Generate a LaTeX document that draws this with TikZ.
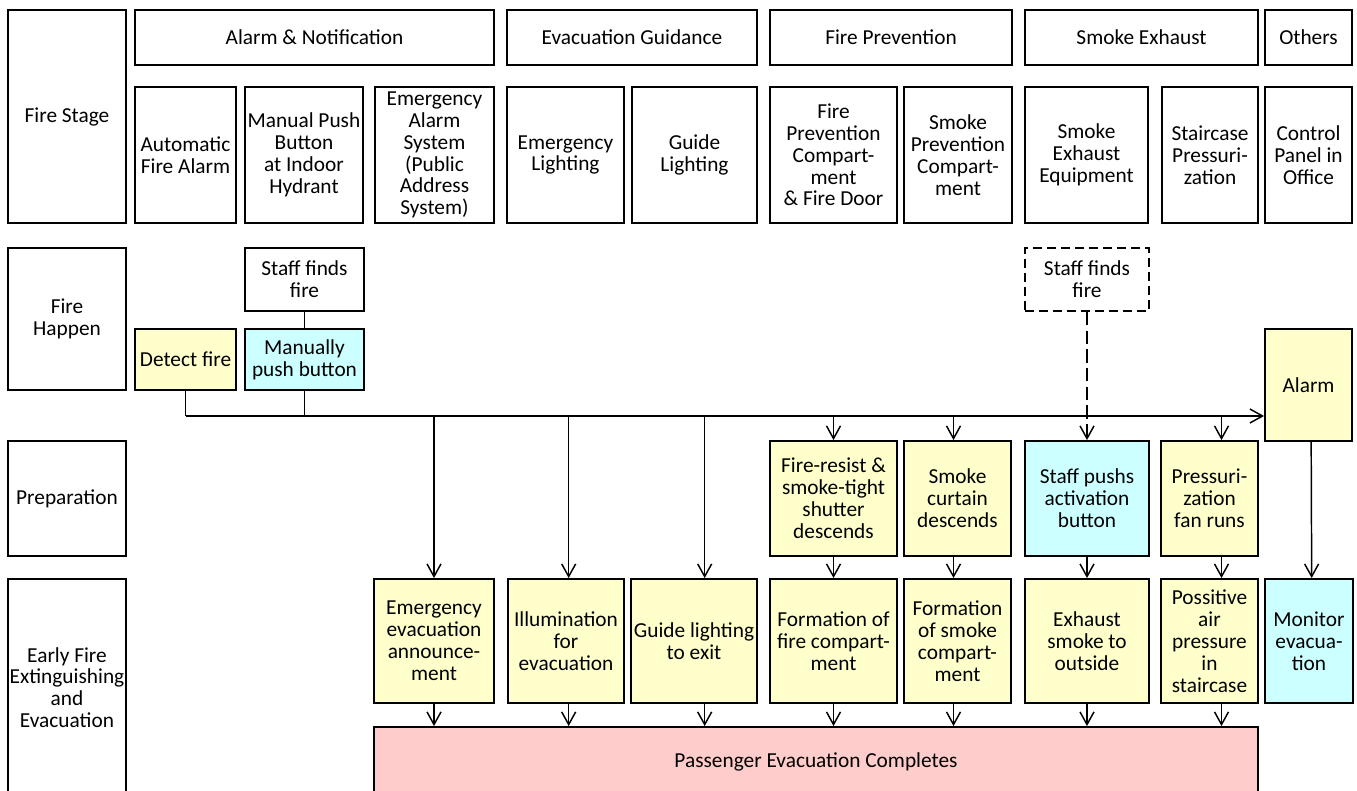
\documentclass[tikz,border=0pt]{standalone}
\usepackage{fontspec}
\setmainfont{Carlito}
\usetikzlibrary{arrows.meta,positioning}
\definecolor{boxyellow}{HTML}{FFFFCC}
\definecolor{boxcyan}{HTML}{CCFFFF}
\definecolor{boxpink}{HTML}{FFCCCC}
\tikzset{
  cell/.style       = {draw, line width=1.4pt, inner sep=0pt, align=center,
                       font=\fontsize{16}{16.4}\selectfont},
  sz/.style 2 args  = {minimum width=#1*0.75pt, minimum height=#2*0.75pt},
  yelcell/.style    = {cell, fill=boxyellow},
  cyancell/.style   = {cell, fill=boxcyan},
  pinkcell/.style   = {cell, fill=boxpink},
  dashcell/.style   = {cell, dash pattern=on 7pt off 3.5pt},
  sig/.style        = {-{Straight Barb[length=9.5pt,width=10.5pt]}, line width=1.1pt},
  wire/.style       = {line width=1.1pt},
}
\begin{document}
\begin{tikzpicture}[x=0.75pt,y=-0.75pt]
  \useasboundingbox (0,0) rectangle (1357,791);
  % stage labels
  \node[cell, sz={118}{213}] (stage)  at (67,116.5) {Fire Stage};
  \node[cell, sz={118}{142}] (happen) at (67,319)   {Fire\\Happen};
  \node[cell, sz={118}{115}] (prep)   at (67,498.5) {Preparation};
  \node[cell, sz={118}{217}] (early)  at (67,687.5) {Early Fire\\Extinguishing\\and\\Evacuation};
  % headers
  \node[cell, sz={359}{55}] (hAlarm) at (314.5,37.5)  {Alarm \& Notification};
  \node[cell, sz={250}{55}] (hEvac)  at (632,37.5)    {Evacuation Guidance};
  \node[cell, sz={242}{55}] (hPrev)  at (891,37.5)    {Fire Prevention};
  \node[cell, sz={233}{55}] (hSmoke) at (1141.5,37.5) {Smoke Exhaust};
  \node[cell, sz={87}{55}]  (hOther) at (1308.5,37.5) {Others};
  % equipment
  \node[cell, sz={101}{136}] (cAuto)      at (185.5,155)  {Automatic\\Fire Alarm};
  \node[cell, sz={118}{136}] (cManual)    at (304,155)    {Manual Push\\Button\\at Indoor\\Hydrant};
  \node[cell, sz={119}{136}] (cPA)        at (434.5,155)  {Emergency\\Alarm\\System\\(Public\\Address\\System)};
  \node[cell, sz={117}{136}] (cEmLight)   at (565.5,155)  {Emergency\\Lighting};
  \node[cell, sz={125}{136}] (cGuide)     at (694.5,155)  {Guide\\Lighting};
  \node[cell, sz={127}{136}] (cFireComp)  at (833.5,155)  {Fire\\Prevention\\Compart-\\ment\\\& Fire Door};
  \node[cell, sz={108}{136}] (cSmokeComp) at (958,155)    {Smoke\\Prevention\\Compart-\\ment};
  \node[cell, sz={123}{136}] (cExhaust)   at (1086.5,155) {Smoke\\Exhaust\\Equipment};
  \node[cell, sz={96}{136}]  (cStair)     at (1210,155)   {Staircase\\Pressuri-\\zation};
  \node[cell, sz={87}{136}]  (cPanel)     at (1308.5,155) {Control\\Panel in\\Office};
  % fire happen
  \node[cell, sz={119}{63}]      (staffA) at (304.5,279.5) {Staff finds\\fire};
  \node[yelcell, sz={101}{61}]   (detect) at (185.5,359.5) {Detect fire};
  \node[cyancell, sz={119}{61}]  (manual) at (304.5,359.5) {Manually\\push button};
  \node[dashcell, sz={124}{63}]  (staffB) at (1087,279.5)  {Staff finds\\fire};
  \node[yelcell, sz={87}{112}]   (alarm)  at (1308.5,385)  {Alarm};
  % preparation
  \node[yelcell, sz={127}{115}]  (shutter) at (833.5,498.5)  {Fire-resist \&\\smoke-tight\\shutter\\descends};
  \node[yelcell, sz={107}{115}]  (curtain) at (957.5,498.5)  {Smoke\\curtain\\descends};
  \node[cyancell, sz={124}{115}] (pushs)   at (1087,498.5)   {Staff pushs\\activation\\button};
  \node[yelcell, sz={97}{115}]   (fan)     at (1209.5,498.5) {Pressuri-\\zation\\fan runs};
  % early extinguishing and evacuation
  \node[yelcell, sz={120}{124}]  (announce)  at (434,641)    {Emergency\\evacuation\\announce-\\ment};
  \node[yelcell, sz={116}{124}]  (illum)     at (566,641)    {Illumination\\for\\evacuation};
  \node[yelcell, sz={126}{124}]  (guide)     at (694,641)    {Guide lighting\\to exit};
  \node[yelcell, sz={127}{124}]  (firecomp)  at (833.5,641)  {Formation of\\fire compart-\\ment};
  \node[yelcell, sz={107}{124}]  (smokecomp) at (957.5,641)  {Formation\\of smoke\\compart-\\ment};
  \node[yelcell, sz={124}{124}]  (exhaust)   at (1087,641)   {Exhaust\\smoke to\\outside};
  \node[yelcell, sz={97}{124}]   (pressure)  at (1209.5,641) {Possitive\\air\\pressure\\in\\staircase};
  \node[cyancell, sz={88}{124}]  (monitor)   at (1309,641)   {Monitor\\evacua-\\tion};
  \node[pinkcell, sz={884}{69}]  (pass)      at (816,761.5)  {Passenger Evacuation Completes};
  % alarm bus
  \coordinate (bus) at (185.5,416);
  \draw[wire] (staffA.south) -- (manual.north);
  \draw[wire] (detect.south) -- (bus);
  \draw[wire] (manual.south) -- (manual.south |- bus);
  \draw[sig] (bus) -- (bus -| alarm.west);
  \foreach \n/\dx in {announce/0, illum/2, guide/8, shutter/0, curtain/-3, fan/9}
    \draw[sig] ([xshift=\dx pt]\n.north |- bus) -- ([xshift=\dx pt]\n.north);
  \draw[sig, dash pattern=on 10pt off 4pt] (staffB.south) -- (pushs.north);
  \draw[sig] ([xshift=2pt]alarm.south) -- ([xshift=2pt]monitor.north);
  % preparation to action
  \foreach \a/\b/\dx in {shutter/firecomp/0, curtain/smokecomp/-3, pushs/exhaust/0, fan/pressure/9}
    \draw[sig] ([xshift=\dx pt]\a.south) -- ([xshift=\dx pt]\b.north);
  % action to evacuation
  \foreach \n/\dx in {announce/0, illum/2, guide/8, firecomp/0, smokecomp/-3, exhaust/0, pressure/9}
    \draw[sig] ([xshift=\dx pt]\n.south) -- ([xshift=\dx pt]\n.south |- pass.north);
\end{tikzpicture}
\end{document}
